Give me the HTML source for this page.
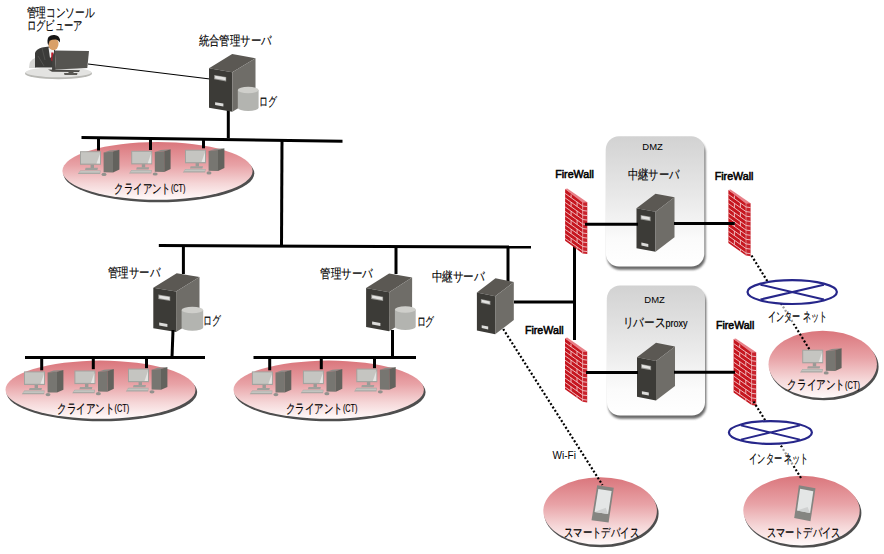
<!DOCTYPE html><html><head><meta charset="utf-8"><style>html,body{margin:0;padding:0;background:#fff;}svg{display:block;}text{font-family:"Liberation Sans", sans-serif;fill:#000;}</style></head><body>
<svg width="884" height="554" viewBox="0 0 884 554">
<defs>
<linearGradient id="pink" x1="0" y1="0" x2="0" y2="1"><stop offset="0" stop-color="#da767c"/><stop offset="0.4" stop-color="#e8a2a6"/><stop offset="0.72" stop-color="#f5d6d7"/><stop offset="1" stop-color="#fffafa"/></linearGradient>
<linearGradient id="gray" x1="0" y1="0" x2="0" y2="1"><stop offset="0" stop-color="#d2d2d2"/><stop offset="0.45" stop-color="#e8e8e8"/><stop offset="0.8" stop-color="#fbfbfb"/><stop offset="1" stop-color="#ffffff"/></linearGradient>
<filter id="blur" x="-10%" y="-10%" width="120%" height="130%"><feGaussianBlur stdDeviation="1.2"/></filter>
</defs>
<rect width="884" height="554" fill="#fff"/>
<text x="26.5" y="17.1" font-size="12.5" font-weight="normal" text-anchor="start" textLength="68.0" lengthAdjust="spacingAndGlyphs" stroke="#000" stroke-width="0.15">管理コンソール</text>
<text x="26.5" y="29.9" font-size="12.5" font-weight="normal" text-anchor="start" textLength="56.0" lengthAdjust="spacingAndGlyphs" stroke="#000" stroke-width="0.15">ログビューア</text>
<ellipse cx="58.5" cy="73.5" rx="33.5" ry="5.8" fill="#b9b9b5"/>
<ellipse cx="58.5" cy="72.3" rx="33" ry="5" fill="#e3e3e1"/>
<path d="M29,68 Q29,60 35,58 L36,68 z" fill="#d6d6d4"/>
<path d="M35,67.5 L35,53 Q36,49 42,47.5 L49,46.5 L55,50 L55,67.5 z" fill="#3b3b39"/>
<path d="M42,48 L45,60 M38,56 L44,66" stroke="#5a5a58" stroke-width="0.7" fill="none"/>
<polygon points="48.5,47.5 54,47.8 54,55 50,58" fill="#f4f4f4"/>
<polygon points="51.3,52.5 53.4,52.5 53.6,60.5 52,61.5 51.2,60" fill="#c01828"/>
<ellipse cx="53.4" cy="44" rx="5.1" ry="6.2" fill="#d9a068"/>
<path d="M48.2,45.5 Q46.6,40 48.5,37 Q51,34.6 54.5,35 Q59,35.4 60,39.5 L59.8,42.5 Q58.6,39.6 56,39.4 Q52,39.2 49.6,40.8 Q49,43 48.2,45.5 z" fill="#161616"/>
<polygon points="54.8,50.5 89,51 87.3,68 56,69.5" fill="#555450"/>
<polygon points="54.8,50.5 56,69.5 52,70.8 52.5,56" fill="#444340"/>
<polygon points="48,69.6 80,70.2 79,72 52,71.8" fill="#4a4946"/>
<rect x="68.5" y="70.5" width="5" height="3" fill="#555450"/>
<polygon points="64,73 77.5,73 77,75 64.5,75" fill="#5a5955"/>
<line x1="88.0" y1="64.0" x2="210.0" y2="79.0" stroke="#000" stroke-width="1.2"/>
<text x="198.5" y="44.6" font-size="12.5" font-weight="normal" text-anchor="start" textLength="73.0" lengthAdjust="spacingAndGlyphs" stroke="#000" stroke-width="0.15">統合管理サーバ</text>
<line x1="228.3" y1="110.0" x2="228.3" y2="138.0" stroke="#000" stroke-width="3"/>
<polygon points="209.0,68.2 232.2,54.1 255.5,58.2 232.3,72.3" fill="#5b5853"/>
<polygon points="209.0,68.2 232.3,72.3 232.3,111.8 209.0,107.7" fill="#3c3b37"/>
<polygon points="232.3,72.3 255.5,58.2 255.5,97.7 232.3,111.8" fill="#6f6d68"/>
<polygon points="214.1,74.9 226.2,77.0 226.2,81.4 214.1,79.3" fill="#9a9a96"/>
<polygon points="215.1,75.7 225.6,77.6 225.6,80.3 215.1,78.5" fill="#e4e4e2"/>
<polygon points="215.1,102.2 223.4,103.6 223.4,106.6 215.1,105.1" fill="#dcdcda"/>
<path d="M237.8,90.0 v17.8 a10.4,3.2 0 0 0 20.8,0 v-17.8 z" fill="#b3b4b0"/>
<ellipse cx="248.2" cy="90.0" rx="10.4" ry="3.2" fill="#cfcfcb"/>
<text x="259.4" y="106.3" font-size="12.5" font-weight="normal" text-anchor="start" textLength="17.9" lengthAdjust="spacingAndGlyphs" stroke="#000" stroke-width="0.15">ログ</text>
<ellipse cx="158.8" cy="173.3" rx="95.5" ry="28.9" fill="#4e4e4e"/>
<ellipse cx="157.5" cy="170.9" rx="95.1" ry="28.9" fill="url(#pink)"/>
<line x1="81.5" y1="137.5" x2="342.5" y2="141.3" stroke="#000" stroke-width="3"/>
<line x1="98.5" y1="138.0" x2="98.5" y2="150.5" stroke="#000" stroke-width="3"/>
<line x1="150.5" y1="138.0" x2="150.5" y2="150.0" stroke="#000" stroke-width="3"/>
<line x1="203.5" y1="138.0" x2="203.5" y2="148.3" stroke="#000" stroke-width="3"/>
<polygon points="80.3,170.4 100.6,170.4 100.2,174.0 77.8,174.0" fill="#a9a9a5"/>
<polygon points="80.6,171.0 100.0,171.0 99.8,172.8 78.6,172.8" fill="#c4c4c0"/>
<rect x="90.6" y="164.5" width="3.4" height="3.6" fill="#9a9a96"/>
<polygon points="85.6,167.7 98.0,167.7 97.4,169.9 85.0,169.9" fill="#a0a09c"/>
<rect x="80.0" y="151.2" width="21" height="13.6" fill="#a3a39f"/>
<rect x="81.0" y="152.2" width="19" height="11.4" fill="#c5c5c1"/>
<polygon points="100.0,153.7 100.0,163.6 96.5,163.6" fill="#e4e4e2"/>
<polygon points="103.6,152.4 109.6,150.4 119.4,149.7 113.0,151.6" fill="#8b8a86"/>
<polygon points="103.6,152.4 113.0,151.6 113.0,172.4 103.6,172.2" fill="#777671"/>
<polygon points="113.0,151.6 119.4,149.7 119.4,169.5 113.0,172.4" fill="#63625d"/>
<ellipse cx="104.0" cy="174.4" rx="2.5" ry="1.6" fill="#92928e"/>
<polygon points="131.5,170.0 151.8,170.0 151.4,173.6 129.0,173.6" fill="#a9a9a5"/>
<polygon points="131.8,170.6 151.2,170.6 151.0,172.4 129.8,172.4" fill="#c4c4c0"/>
<rect x="141.8" y="164.1" width="3.4" height="3.6" fill="#9a9a96"/>
<polygon points="136.8,167.3 149.2,167.3 148.6,169.5 136.2,169.5" fill="#a0a09c"/>
<rect x="131.2" y="150.8" width="21" height="13.6" fill="#a3a39f"/>
<rect x="132.2" y="151.8" width="19" height="11.4" fill="#c5c5c1"/>
<polygon points="151.2,153.3 151.2,163.2 147.7,163.2" fill="#e4e4e2"/>
<polygon points="154.8,152.0 160.8,150.0 170.6,149.3 164.2,151.2" fill="#8b8a86"/>
<polygon points="154.8,152.0 164.2,151.2 164.2,172.0 154.8,171.8" fill="#777671"/>
<polygon points="164.2,151.2 170.6,149.3 170.6,169.1 164.2,172.0" fill="#63625d"/>
<ellipse cx="155.2" cy="174.0" rx="2.5" ry="1.6" fill="#92928e"/>
<polygon points="185.3,168.9 205.6,168.9 205.2,172.5 182.8,172.5" fill="#a9a9a5"/>
<polygon points="185.6,169.5 205.0,169.5 204.8,171.3 183.6,171.3" fill="#c4c4c0"/>
<rect x="195.6" y="163.0" width="3.4" height="3.6" fill="#9a9a96"/>
<polygon points="190.6,166.2 203.0,166.2 202.4,168.4 190.0,168.4" fill="#a0a09c"/>
<rect x="185.0" y="149.7" width="21" height="13.6" fill="#a3a39f"/>
<rect x="186.0" y="150.7" width="19" height="11.4" fill="#c5c5c1"/>
<polygon points="205.0,152.2 205.0,162.1 201.5,162.1" fill="#e4e4e2"/>
<polygon points="208.6,150.9 214.6,148.9 224.4,148.2 218.0,150.1" fill="#8b8a86"/>
<polygon points="208.6,150.9 218.0,150.1 218.0,170.9 208.6,170.7" fill="#777671"/>
<polygon points="218.0,150.1 224.4,148.2 224.4,168.0 218.0,170.9" fill="#63625d"/>
<ellipse cx="209.0" cy="172.9" rx="2.5" ry="1.6" fill="#92928e"/>
<text x="114.2" y="193.1" font-size="12.5" font-weight="normal" text-anchor="start" textLength="71.3" lengthAdjust="spacingAndGlyphs" stroke="#000" stroke-width="0.15">クライアント<tspan font-size="10" dy="-0.7">(CT)</tspan></text>
<line x1="282.0" y1="140.0" x2="281.5" y2="246.0" stroke="#000" stroke-width="3"/>
<line x1="158.8" y1="245.5" x2="531.0" y2="247.0" stroke="#000" stroke-width="3"/>
<text x="108.1" y="277.4" font-size="12.5" font-weight="normal" text-anchor="start" textLength="52.0" lengthAdjust="spacingAndGlyphs" stroke="#000" stroke-width="0.15">管理サーバ</text>
<line x1="183.4" y1="246.0" x2="183.4" y2="274.0" stroke="#000" stroke-width="3"/>
<polygon points="153.3,287.7 176.7,273.3 199.5,277.1 176.1,291.5" fill="#5b5853"/>
<polygon points="153.3,287.7 176.1,291.5 176.1,332.0 153.3,328.2" fill="#3c3b37"/>
<polygon points="176.1,291.5 199.5,277.1 199.5,317.6 176.1,332.0" fill="#6f6d68"/>
<polygon points="158.3,294.6 170.2,296.6 170.2,301.0 158.3,299.0" fill="#9a9a96"/>
<polygon points="159.2,295.4 169.5,297.1 169.5,299.9 159.2,298.2" fill="#e4e4e2"/>
<polygon points="159.2,322.5 167.4,323.9 167.4,326.9 159.2,325.6" fill="#dcdcda"/>
<path d="M181.6,310.0 v17.6 a10.8,3.2 0 0 0 21.6,0 v-17.6 z" fill="#b3b4b0"/>
<ellipse cx="192.4" cy="310.0" rx="10.8" ry="3.2" fill="#cfcfcb"/>
<text x="203.0" y="325.1" font-size="12.5" font-weight="normal" text-anchor="start" textLength="17.8" lengthAdjust="spacingAndGlyphs" stroke="#000" stroke-width="0.15">ログ</text>
<line x1="173.0" y1="330.0" x2="172.0" y2="357.5" stroke="#000" stroke-width="3"/>
<ellipse cx="101.8" cy="392.1" rx="95.4" ry="29.1" fill="#4e4e4e"/>
<ellipse cx="100.5" cy="389.7" rx="95.0" ry="29.1" fill="url(#pink)"/>
<line x1="25.0" y1="357.5" x2="205.0" y2="357.5" stroke="#000" stroke-width="3"/>
<line x1="41.7" y1="357.0" x2="41.7" y2="370.3" stroke="#000" stroke-width="3"/>
<line x1="93.3" y1="357.0" x2="93.3" y2="369.2" stroke="#000" stroke-width="3"/>
<line x1="146.5" y1="357.0" x2="146.5" y2="368.2" stroke="#000" stroke-width="3"/>
<polygon points="24.3,390.6 44.6,390.6 44.2,394.2 21.8,394.2" fill="#a9a9a5"/>
<polygon points="24.6,391.2 44.0,391.2 43.8,393.0 22.6,393.0" fill="#c4c4c0"/>
<rect x="34.6" y="384.7" width="3.4" height="3.6" fill="#9a9a96"/>
<polygon points="29.6,387.9 42.0,387.9 41.4,390.1 29.0,390.1" fill="#a0a09c"/>
<rect x="24.0" y="371.4" width="21" height="13.6" fill="#a3a39f"/>
<rect x="25.0" y="372.4" width="19" height="11.4" fill="#c5c5c1"/>
<polygon points="44.0,373.9 44.0,383.8 40.5,383.8" fill="#e4e4e2"/>
<polygon points="47.6,372.6 53.6,370.6 63.4,369.9 57.0,371.8" fill="#8b8a86"/>
<polygon points="47.6,372.6 57.0,371.8 57.0,392.6 47.6,392.4" fill="#777671"/>
<polygon points="57.0,371.8 63.4,369.9 63.4,389.7 57.0,392.6" fill="#63625d"/>
<ellipse cx="48.0" cy="394.6" rx="2.5" ry="1.6" fill="#92928e"/>
<polygon points="74.7,389.7 95.0,389.7 94.6,393.3 72.2,393.3" fill="#a9a9a5"/>
<polygon points="75.0,390.3 94.4,390.3 94.2,392.1 73.0,392.1" fill="#c4c4c0"/>
<rect x="85.0" y="383.8" width="3.4" height="3.6" fill="#9a9a96"/>
<polygon points="80.0,387.0 92.4,387.0 91.8,389.2 79.4,389.2" fill="#a0a09c"/>
<rect x="74.4" y="370.5" width="21" height="13.6" fill="#a3a39f"/>
<rect x="75.4" y="371.5" width="19" height="11.4" fill="#c5c5c1"/>
<polygon points="94.4,373.0 94.4,382.9 90.9,382.9" fill="#e4e4e2"/>
<polygon points="98.0,371.7 104.0,369.7 113.8,369.0 107.4,370.9" fill="#8b8a86"/>
<polygon points="98.0,371.7 107.4,370.9 107.4,391.7 98.0,391.5" fill="#777671"/>
<polygon points="107.4,370.9 113.8,369.0 113.8,388.8 107.4,391.7" fill="#63625d"/>
<ellipse cx="98.4" cy="393.7" rx="2.5" ry="1.6" fill="#92928e"/>
<polygon points="128.3,387.8 148.6,387.8 148.2,391.4 125.8,391.4" fill="#a9a9a5"/>
<polygon points="128.6,388.4 148.0,388.4 147.8,390.2 126.6,390.2" fill="#c4c4c0"/>
<rect x="138.6" y="381.9" width="3.4" height="3.6" fill="#9a9a96"/>
<polygon points="133.6,385.1 146.0,385.1 145.4,387.3 133.0,387.3" fill="#a0a09c"/>
<rect x="128.0" y="368.6" width="21" height="13.6" fill="#a3a39f"/>
<rect x="129.0" y="369.6" width="19" height="11.4" fill="#c5c5c1"/>
<polygon points="148.0,371.1 148.0,381.0 144.5,381.0" fill="#e4e4e2"/>
<polygon points="151.6,369.8 157.6,367.8 167.4,367.1 161.0,369.0" fill="#8b8a86"/>
<polygon points="151.6,369.8 161.0,369.0 161.0,389.8 151.6,389.6" fill="#777671"/>
<polygon points="161.0,369.0 167.4,367.1 167.4,386.9 161.0,389.8" fill="#63625d"/>
<ellipse cx="152.0" cy="391.8" rx="2.5" ry="1.6" fill="#92928e"/>
<text x="57.0" y="412.6" font-size="12.5" font-weight="normal" text-anchor="start" textLength="72.2" lengthAdjust="spacingAndGlyphs" stroke="#000" stroke-width="0.15">クライアント<tspan font-size="10" dy="-0.7">(CT)</tspan></text>
<text x="320.2" y="277.6" font-size="12.5" font-weight="normal" text-anchor="start" textLength="52.5" lengthAdjust="spacingAndGlyphs" stroke="#000" stroke-width="0.15">管理サーバ</text>
<line x1="396.0" y1="247.0" x2="396.0" y2="274.0" stroke="#000" stroke-width="3"/>
<polygon points="366.1,288.0 389.1,273.4 412.1,277.6 389.1,292.2" fill="#5b5853"/>
<polygon points="366.1,288.0 389.1,292.2 389.1,331.2 366.1,327.0" fill="#3c3b37"/>
<polygon points="389.1,292.2 412.1,277.6 412.1,316.6 389.1,331.2" fill="#6f6d68"/>
<polygon points="371.2,294.6 383.1,296.8 383.1,301.1 371.2,298.9" fill="#9a9a96"/>
<polygon points="372.1,295.4 382.4,297.3 382.4,300.0 372.1,298.1" fill="#e4e4e2"/>
<polygon points="372.1,321.5 380.4,323.1 380.4,326.0 372.1,324.5" fill="#dcdcda"/>
<path d="M394.9,309.5 v17.3 a10.4,3.2 0 0 0 20.8,0 v-17.3 z" fill="#b3b4b0"/>
<ellipse cx="405.3" cy="309.5" rx="10.4" ry="3.2" fill="#cfcfcb"/>
<text x="416.5" y="325.6" font-size="12.5" font-weight="normal" text-anchor="start" textLength="17.8" lengthAdjust="spacingAndGlyphs" stroke="#000" stroke-width="0.15">ログ</text>
<line x1="392.5" y1="330.0" x2="392.5" y2="357.5" stroke="#000" stroke-width="3"/>
<ellipse cx="330.0" cy="392.1" rx="95.6" ry="29.1" fill="#4e4e4e"/>
<ellipse cx="328.7" cy="389.7" rx="95.2" ry="29.1" fill="url(#pink)"/>
<line x1="253.5" y1="357.5" x2="416.0" y2="357.5" stroke="#000" stroke-width="3"/>
<line x1="269.7" y1="357.0" x2="269.7" y2="370.3" stroke="#000" stroke-width="3"/>
<line x1="321.3" y1="357.0" x2="321.3" y2="369.2" stroke="#000" stroke-width="3"/>
<line x1="374.5" y1="357.0" x2="374.5" y2="368.2" stroke="#000" stroke-width="3"/>
<polygon points="252.2,390.6 272.5,390.6 272.1,394.2 249.7,394.2" fill="#a9a9a5"/>
<polygon points="252.5,391.2 271.9,391.2 271.7,393.0 250.5,393.0" fill="#c4c4c0"/>
<rect x="262.5" y="384.7" width="3.4" height="3.6" fill="#9a9a96"/>
<polygon points="257.5,387.9 269.9,387.9 269.3,390.1 256.9,390.1" fill="#a0a09c"/>
<rect x="251.9" y="371.4" width="21" height="13.6" fill="#a3a39f"/>
<rect x="252.9" y="372.4" width="19" height="11.4" fill="#c5c5c1"/>
<polygon points="271.9,373.9 271.9,383.8 268.4,383.8" fill="#e4e4e2"/>
<polygon points="275.5,372.6 281.5,370.6 291.3,369.9 284.9,371.8" fill="#8b8a86"/>
<polygon points="275.5,372.6 284.9,371.8 284.9,392.6 275.5,392.4" fill="#777671"/>
<polygon points="284.9,371.8 291.3,369.9 291.3,389.7 284.9,392.6" fill="#63625d"/>
<ellipse cx="275.9" cy="394.6" rx="2.5" ry="1.6" fill="#92928e"/>
<polygon points="303.2,389.7 323.5,389.7 323.1,393.3 300.7,393.3" fill="#a9a9a5"/>
<polygon points="303.5,390.3 322.9,390.3 322.7,392.1 301.5,392.1" fill="#c4c4c0"/>
<rect x="313.5" y="383.8" width="3.4" height="3.6" fill="#9a9a96"/>
<polygon points="308.5,387.0 320.9,387.0 320.3,389.2 307.9,389.2" fill="#a0a09c"/>
<rect x="302.9" y="370.5" width="21" height="13.6" fill="#a3a39f"/>
<rect x="303.9" y="371.5" width="19" height="11.4" fill="#c5c5c1"/>
<polygon points="322.9,373.0 322.9,382.9 319.4,382.9" fill="#e4e4e2"/>
<polygon points="326.5,371.7 332.5,369.7 342.3,369.0 335.9,370.9" fill="#8b8a86"/>
<polygon points="326.5,371.7 335.9,370.9 335.9,391.7 326.5,391.5" fill="#777671"/>
<polygon points="335.9,370.9 342.3,369.0 342.3,388.8 335.9,391.7" fill="#63625d"/>
<ellipse cx="326.9" cy="393.7" rx="2.5" ry="1.6" fill="#92928e"/>
<polygon points="356.6,387.8 376.9,387.8 376.5,391.4 354.1,391.4" fill="#a9a9a5"/>
<polygon points="356.9,388.4 376.3,388.4 376.1,390.2 354.9,390.2" fill="#c4c4c0"/>
<rect x="366.9" y="381.9" width="3.4" height="3.6" fill="#9a9a96"/>
<polygon points="361.9,385.1 374.3,385.1 373.7,387.3 361.3,387.3" fill="#a0a09c"/>
<rect x="356.3" y="368.6" width="21" height="13.6" fill="#a3a39f"/>
<rect x="357.3" y="369.6" width="19" height="11.4" fill="#c5c5c1"/>
<polygon points="376.3,371.1 376.3,381.0 372.8,381.0" fill="#e4e4e2"/>
<polygon points="379.9,369.8 385.9,367.8 395.7,367.1 389.3,369.0" fill="#8b8a86"/>
<polygon points="379.9,369.8 389.3,369.0 389.3,389.8 379.9,389.6" fill="#777671"/>
<polygon points="389.3,369.0 395.7,367.1 395.7,386.9 389.3,389.8" fill="#63625d"/>
<ellipse cx="380.3" cy="391.8" rx="2.5" ry="1.6" fill="#92928e"/>
<text x="286.0" y="413.1" font-size="12.5" font-weight="normal" text-anchor="start" textLength="71.5" lengthAdjust="spacingAndGlyphs" stroke="#000" stroke-width="0.15">クライアント<tspan font-size="10" dy="-0.7">(CT)</tspan></text>
<text x="431.5" y="280.6" font-size="12.5" font-weight="normal" text-anchor="start" textLength="53.0" lengthAdjust="spacingAndGlyphs" stroke="#000" stroke-width="0.15">中継サーバ</text>
<line x1="508.0" y1="247.0" x2="508.0" y2="281.0" stroke="#000" stroke-width="3"/>
<polygon points="476.9,292.5 495.5,278.2 513.8,282.0 495.2,296.3" fill="#5b5853"/>
<polygon points="476.9,292.5 495.2,296.3 495.2,334.3 476.9,330.5" fill="#3c3b37"/>
<polygon points="495.2,296.3 513.8,282.0 513.8,320.0 495.2,334.3" fill="#6f6d68"/>
<polygon points="480.9,299.0 490.4,300.9 490.4,305.1 480.9,303.1" fill="#9a9a96"/>
<polygon points="481.7,299.8 489.6,301.4 489.6,304.0 481.7,302.3" fill="#e4e4e2"/>
<polygon points="481.7,325.2 488.2,326.5 488.2,329.4 481.7,328.1" fill="#dcdcda"/>
<line x1="514.0" y1="302.0" x2="575.0" y2="302.0" stroke="#000" stroke-width="3"/>
<line x1="574.5" y1="240.0" x2="574.5" y2="340.0" stroke="#000" stroke-width="3"/>
<text x="552.5" y="459.3" font-size="10" font-weight="normal" text-anchor="start" textLength="23.5" lengthAdjust="spacingAndGlyphs">Wi-Fi</text>
<rect x="607.1" y="139.5" width="98.4" height="130.2" rx="13" fill="#444" opacity="0.8" filter="url(#blur)"/>
<rect x="605.9" y="136.3" width="98.4" height="130.2" rx="13" fill="url(#gray)"/>
<rect x="608.2" y="288.7" width="98.0" height="130.1" rx="13" fill="#444" opacity="0.8" filter="url(#blur)"/>
<rect x="607.0" y="285.5" width="98.0" height="130.1" rx="13" fill="url(#gray)"/>
<text x="642.3" y="150.2" font-size="9.6" font-weight="normal" text-anchor="start" textLength="20.5" lengthAdjust="spacingAndGlyphs">DMZ</text>
<text x="644.3" y="302.6" font-size="9.6" font-weight="normal" text-anchor="start" textLength="20.5" lengthAdjust="spacingAndGlyphs">DMZ</text>
<text x="627.8" y="179.3" font-size="12.5" font-weight="normal" text-anchor="start" textLength="51.5" lengthAdjust="spacingAndGlyphs" stroke="#000" stroke-width="0.15">中継サーバ</text>
<text x="622.8" y="326.9" font-size="12.5" font-weight="normal" text-anchor="start" textLength="64.7" lengthAdjust="spacingAndGlyphs" stroke="#000" stroke-width="0.15">リバース<tspan font-size="11" stroke-width="0.2">proxy</tspan></text>
<polygon points="636.5,208.2 655.5,193.7 674.5,197.2 655.5,211.7" fill="#5b5853"/>
<polygon points="636.5,208.2 655.5,211.7 655.5,251.7 636.5,248.2" fill="#3c3b37"/>
<polygon points="655.5,211.7 674.5,197.2 674.5,237.2 655.5,251.7" fill="#6f6d68"/>
<polygon points="640.7,215.0 650.6,216.8 650.6,221.2 640.7,219.4" fill="#9a9a96"/>
<polygon points="641.4,215.8 649.7,217.3 649.7,220.1 641.4,218.6" fill="#e4e4e2"/>
<polygon points="641.4,242.6 648.3,243.9 648.3,246.9 641.4,245.6" fill="#dcdcda"/>
<polygon points="637.0,357.3 656.0,342.8 675.0,346.4 656.0,360.9" fill="#5b5853"/>
<polygon points="637.0,357.3 656.0,360.9 656.0,400.4 637.0,396.8" fill="#3c3b37"/>
<polygon points="656.0,360.9 675.0,346.4 675.0,385.9 656.0,400.4" fill="#6f6d68"/>
<polygon points="641.2,364.0 651.1,365.9 651.1,370.2 641.2,368.4" fill="#9a9a96"/>
<polygon points="641.9,364.8 650.2,366.4 650.2,369.1 641.9,367.6" fill="#e4e4e2"/>
<polygon points="641.9,391.3 648.8,392.6 648.8,395.5 641.9,394.2" fill="#dcdcda"/>
<text x="555.2" y="177.9" font-size="11" font-weight="normal" text-anchor="start" textLength="38.8" lengthAdjust="spacingAndGlyphs" stroke="#000" stroke-width="0.55">FireWall</text>
<text x="714.7" y="180.1" font-size="11" font-weight="normal" text-anchor="start" textLength="38.8" lengthAdjust="spacingAndGlyphs" stroke="#000" stroke-width="0.55">FireWall</text>
<text x="524.9" y="333.8" font-size="11" font-weight="normal" text-anchor="start" textLength="38.8" lengthAdjust="spacingAndGlyphs" stroke="#000" stroke-width="0.55">FireWall</text>
<text x="716.1" y="328.8" font-size="11" font-weight="normal" text-anchor="start" textLength="38.2" lengthAdjust="spacingAndGlyphs" stroke="#000" stroke-width="0.55">FireWall</text>
<polygon points="582.7,201.6 587.3,202.2 587.3,254.0 582.7,253.4" fill="#c8222c"/>
<polygon points="565.1,189.0 582.7,201.6 582.7,253.4 565.1,240.8" fill="#c6161f"/>
<polygon points="565.1,189.0 567.3,188.4 587.3,202.2 582.7,202.8" fill="#e88088"/>
<path d="M565.1,193.4 L582.7,206.0 L587.3,206.6 M565.1,197.9 L582.7,210.5 L587.3,211.1 M565.1,202.4 L582.7,215.0 L587.3,215.6 M565.1,206.9 L582.7,219.5 L587.3,220.1 M565.1,211.4 L582.7,224.0 L587.3,224.6 M565.1,215.9 L582.7,228.5 L587.3,229.1 M565.1,220.4 L582.7,233.0 L587.3,233.6 M565.1,224.9 L582.7,237.5 L587.3,238.1 M565.1,229.4 L582.7,242.0 L587.3,242.6 M565.1,233.9 L582.7,246.5 L587.3,247.1 M565.1,238.4 L582.7,251.0 L587.3,251.6 M571.1,194.5 L571.1,197.6 M577.1,201.9 L577.1,206.4 M571.1,202.1 L571.1,206.6 M577.1,210.9 L577.1,215.4 M571.1,211.2 L571.1,215.7 M577.1,219.9 L577.1,224.4 M571.1,220.2 L571.1,224.7 M577.1,228.9 L577.1,233.5 M571.1,229.2 L571.1,233.7 M577.1,238.0 L577.1,242.5 M571.1,238.2 L571.1,242.7 M577.1,247.0 L577.1,249.4" stroke="#f6d2d4" stroke-width="0.85" fill="none"/>
<line x1="582.7" y1="202.6" x2="582.7" y2="253.4" stroke="#f0b8bc" stroke-width="0.6"/>
<polygon points="746.0,202.6 750.6,203.2 750.6,256.2 746.0,255.6" fill="#c8222c"/>
<polygon points="728.4,190.0 746.0,202.6 746.0,255.6 728.4,243.0" fill="#c6161f"/>
<polygon points="728.4,190.0 730.6,189.4 750.6,203.2 746.0,203.8" fill="#e88088"/>
<path d="M728.4,194.4 L746.0,207.0 L750.6,207.6 M728.4,199.0 L746.0,211.6 L750.6,212.2 M728.4,203.6 L746.0,216.2 L750.6,216.8 M728.4,208.3 L746.0,220.9 L750.6,221.5 M728.4,212.9 L746.0,225.5 L750.6,226.1 M728.4,217.5 L746.0,230.1 L750.6,230.7 M728.4,222.1 L746.0,234.7 L750.6,235.3 M728.4,226.7 L746.0,239.3 L750.6,239.9 M728.4,231.3 L746.0,243.9 L750.6,244.5 M728.4,235.9 L746.0,248.5 L750.6,249.1 M728.4,240.5 L746.0,253.1 L750.6,253.7 M734.4,195.5 L734.4,198.7 M740.4,203.0 L740.4,207.6 M734.4,203.3 L734.4,207.9 M740.4,212.2 L740.4,216.8 M734.4,212.5 L734.4,217.1 M740.4,221.4 L740.4,226.0 M734.4,221.8 L734.4,226.4 M740.4,230.6 L740.4,235.3 M734.4,231.0 L734.4,235.6 M740.4,239.9 L740.4,244.5 M734.4,240.2 L734.4,244.8 M740.4,249.1 L740.4,251.6" stroke="#f6d2d4" stroke-width="0.85" fill="none"/>
<line x1="746.0" y1="203.6" x2="746.0" y2="255.6" stroke="#f0b8bc" stroke-width="0.6"/>
<polygon points="582.6,350.8 587.2,351.4 587.2,402.4 582.6,401.8" fill="#c8222c"/>
<polygon points="565.0,338.2 582.6,350.8 582.6,401.8 565.0,389.2" fill="#c6161f"/>
<polygon points="565.0,338.2 567.2,337.6 587.2,351.4 582.6,352.0" fill="#e88088"/>
<path d="M565.0,342.5 L582.6,355.1 L587.2,355.7 M565.0,346.9 L582.6,359.5 L587.2,360.1 M565.0,351.4 L582.6,364.0 L587.2,364.6 M565.0,355.8 L582.6,368.4 L587.2,369.0 M565.0,360.2 L582.6,372.8 L587.2,373.4 M565.0,364.7 L582.6,377.3 L587.2,377.9 M565.0,369.1 L582.6,381.7 L587.2,382.3 M565.0,373.5 L582.6,386.1 L587.2,386.7 M565.0,378.0 L582.6,390.6 L587.2,391.2 M565.0,382.4 L582.6,395.0 L587.2,395.6 M565.0,386.9 L582.6,399.5 L587.2,400.1 M571.0,343.7 L571.0,346.8 M577.0,351.1 L577.0,355.5 M571.0,351.2 L571.0,355.7 M577.0,359.9 L577.0,364.4 M571.0,360.1 L571.0,364.5 M577.0,368.8 L577.0,373.2 M571.0,369.0 L571.0,373.4 M577.0,377.7 L577.0,382.1 M571.0,377.8 L571.0,382.3 M577.0,386.6 L577.0,391.0 M571.0,386.7 L571.0,391.1 M577.0,395.4 L577.0,397.8" stroke="#f6d2d4" stroke-width="0.85" fill="none"/>
<line x1="582.6" y1="351.8" x2="582.6" y2="401.8" stroke="#f0b8bc" stroke-width="0.6"/>
<polygon points="751.6,351.6 756.2,352.2 756.2,405.7 751.6,405.1" fill="#c8222c"/>
<polygon points="733.6,339.0 751.6,351.6 751.6,405.1 733.6,392.5" fill="#c6161f"/>
<polygon points="733.6,339.0 735.8,338.4 756.2,352.2 751.6,352.8" fill="#e88088"/>
<path d="M733.6,343.5 L751.6,356.1 L756.2,356.7 M733.6,348.1 L751.6,360.7 L756.2,361.3 M733.6,352.8 L751.6,365.4 L756.2,366.0 M733.6,357.4 L751.6,370.0 L756.2,370.6 M733.6,362.1 L751.6,374.7 L756.2,375.3 M733.6,366.7 L751.6,379.3 L756.2,379.9 M733.6,371.4 L751.6,384.0 L756.2,384.6 M733.6,376.0 L751.6,388.6 L756.2,389.2 M733.6,380.7 L751.6,393.3 L756.2,393.9 M733.6,385.3 L751.6,397.9 L756.2,398.5 M733.6,390.0 L751.6,402.6 L756.2,403.2 M739.7,344.5 L739.7,347.7 M745.8,352.0 L745.8,356.7 M739.7,352.4 L739.7,357.0 M745.8,361.3 L745.8,366.0 M739.7,361.7 L739.7,366.3 M745.8,370.6 L745.8,375.3 M739.7,371.0 L739.7,375.7 M745.8,379.9 L745.8,384.6 M739.7,380.3 L739.7,385.0 M745.8,389.2 L745.8,393.9 M739.7,389.6 L739.7,394.3 M745.8,398.5 L745.8,401.1" stroke="#f6d2d4" stroke-width="0.85" fill="none"/>
<line x1="751.6" y1="352.6" x2="751.6" y2="405.1" stroke="#f0b8bc" stroke-width="0.6"/>
<line x1="585.0" y1="224.3" x2="638.0" y2="224.3" stroke="#000" stroke-width="3"/>
<line x1="674.0" y1="223.6" x2="734.8" y2="223.6" stroke="#000" stroke-width="3"/>
<line x1="586.0" y1="372.5" x2="638.0" y2="372.5" stroke="#000" stroke-width="3"/>
<line x1="674.0" y1="372.2" x2="735.0" y2="372.2" stroke="#000" stroke-width="3"/>
<ellipse cx="824.0" cy="366.7" rx="54.6" ry="33.6" fill="#4e4e4e"/>
<ellipse cx="822.7" cy="364.3" rx="54.2" ry="33.6" fill="url(#pink)"/>
<ellipse cx="802.8" cy="513.0" rx="58.6" ry="34.8" fill="#4e4e4e"/>
<ellipse cx="801.5" cy="510.6" rx="58.2" ry="34.8" fill="url(#pink)"/>
<ellipse cx="601.4" cy="513.4" rx="57.2" ry="33.8" fill="#4e4e4e"/>
<ellipse cx="600.1" cy="511.0" rx="56.8" ry="33.8" fill="url(#pink)"/>
<line x1="503.2" y1="329.0" x2="602.5" y2="485.0" stroke="#000" stroke-width="2.2" stroke-dasharray="2 2"/>
<line x1="751.5" y1="255.5" x2="809.5" y2="349.5" stroke="#000" stroke-width="2.2" stroke-dasharray="2 2"/>
<ellipse cx="792.2" cy="292.1" rx="44.7" ry="11.9" fill="#fff" stroke="#26268a" stroke-width="2.2"/>
<path d="M760.5,284.7 L823.9,299.5 M760.5,299.5 L823.9,284.7" stroke="#26268a" stroke-width="2"/>
<rect x="766" y="306" width="64" height="18" fill="#fff" opacity="0.6"/>
<text x="768.2" y="321.4" font-size="12.5" font-weight="normal" text-anchor="start" textLength="58.8" lengthAdjust="spacingAndGlyphs" stroke="#000" stroke-width="0.15">インター ネット</text>
<polygon points="802.5,368.9 822.8,368.9 822.4,372.5 800.0,372.5" fill="#a9a9a5"/>
<polygon points="802.8,369.5 822.2,369.5 822.0,371.3 800.8,371.3" fill="#c4c4c0"/>
<rect x="812.8" y="363.0" width="3.4" height="3.6" fill="#9a9a96"/>
<polygon points="807.8,366.2 820.2,366.2 819.6,368.4 807.2,368.4" fill="#a0a09c"/>
<rect x="802.2" y="349.7" width="21" height="13.6" fill="#a3a39f"/>
<rect x="803.2" y="350.7" width="19" height="11.4" fill="#c5c5c1"/>
<polygon points="822.2,352.2 822.2,362.1 818.7,362.1" fill="#e4e4e2"/>
<polygon points="825.8,350.9 831.8,348.9 841.6,348.2 835.2,350.1" fill="#8b8a86"/>
<polygon points="825.8,350.9 835.2,350.1 835.2,370.9 825.8,370.7" fill="#777671"/>
<polygon points="835.2,350.1 841.6,348.2 841.6,368.0 835.2,370.9" fill="#63625d"/>
<ellipse cx="826.2" cy="372.9" rx="2.5" ry="1.6" fill="#92928e"/>
<text x="787.4" y="389.4" font-size="12.5" font-weight="normal" text-anchor="start" textLength="72.5" lengthAdjust="spacingAndGlyphs" stroke="#000" stroke-width="0.15">クライアント<tspan font-size="10" dy="-0.7">(CT)</tspan></text>
<line x1="753.5" y1="401.5" x2="802.0" y2="479.6" stroke="#000" stroke-width="2.2" stroke-dasharray="2 2"/>
<ellipse cx="770.4" cy="432.5" rx="41.5" ry="11.4" fill="#fff" stroke="#26268a" stroke-width="2.2"/>
<path d="M740.9,425.4 L799.9,439.6 M740.9,439.6 L799.9,425.4" stroke="#26268a" stroke-width="2"/>
<rect x="747" y="447" width="64" height="18" fill="#fff" opacity="0.6"/>
<text x="749.2" y="462.9" font-size="12.5" font-weight="normal" text-anchor="start" textLength="59.5" lengthAdjust="spacingAndGlyphs" stroke="#000" stroke-width="0.15">インター ネット</text>
<polygon points="798.9,485.2 815.5,488.3 810.5,521.3 794.2,518.1" fill="#858581"/>
<polygon points="800.1,488.8 813.3,491.3 810.1,513.1 797.0,510.5" fill="#e4e6e6"/>
<polygon points="797.0,510.5 807.6,507.0 810.1,513.1" fill="#cfd1d1"/>
<text x="766.5" y="537.1" font-size="12.5" font-weight="normal" text-anchor="start" textLength="73.7" lengthAdjust="spacingAndGlyphs" stroke="#000" stroke-width="0.15">スマートデバイス</text>
<polygon points="597.2,485.3 613.8,487.7 608.6,522.6 591.5,520.2" fill="#858581"/>
<polygon points="598.3,489.0 611.6,490.9 608.1,514.0 594.6,512.1" fill="#e4e6e6"/>
<polygon points="594.6,512.1 605.7,507.7 608.1,514.0" fill="#cfd1d1"/>
<text x="563.9" y="536.6" font-size="12.5" font-weight="normal" text-anchor="start" textLength="75.1" lengthAdjust="spacingAndGlyphs" stroke="#000" stroke-width="0.15">スマートデバイス</text>
</svg></body></html>
